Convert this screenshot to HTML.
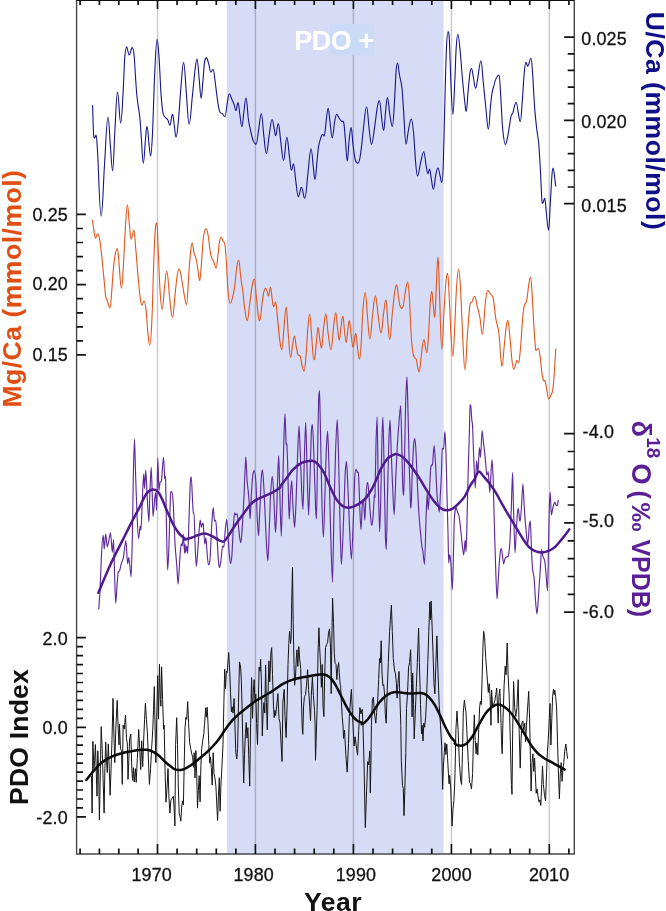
<!DOCTYPE html>
<html><head><meta charset="utf-8"><title>PDO chart</title>
<style>
html,body{margin:0;padding:0;background:#fff;}
body{width:666px;height:911px;overflow:hidden;}
svg{display:block;font-family:"Liberation Sans",sans-serif;will-change:transform;}
</style></head><body>
<svg width="666" height="911" viewBox="0 0 666 911">
<rect width="666" height="911" fill="#fff"/>
<rect x="226.8" y="0" width="216.8" height="853.5" fill="#d6dcf5"/>
<line x1="157.5" y1="9" x2="157.5" y2="844" stroke="#c9c9c9" stroke-width="1.4"/>
<line x1="255.4" y1="9" x2="255.4" y2="844" stroke="#a9adb8" stroke-width="1.4"/>
<line x1="353.4" y1="9" x2="353.4" y2="844" stroke="#a9adb8" stroke-width="1.4"/>
<line x1="451.4" y1="9" x2="451.4" y2="844" stroke="#c9c9c9" stroke-width="1.4"/>
<line x1="549.3" y1="9" x2="549.3" y2="844" stroke="#c9c9c9" stroke-width="1.4"/>
<rect x="329.6" y="24" width="44.6" height="31.5" fill="#cbdaf6"/>
<path d="M92.6 105.6C92.8 110.3 93.2 127.9 93.5 133.3C93.9 138.7 94.2 137.9 94.7 137.9C95.3 137.9 95.5 135.1 96.1 135.1C96.7 135.1 96.8 140.5 97.7 154.0C98.5 167.5 99.7 216.2 101.1 216.2C102.6 216.2 103.4 179.8 104.6 163.2C105.7 146.7 106.6 117.2 108.0 117.2C109.0 117.2 109.6 135.9 110.3 144.8C111.1 153.8 111.7 170.9 112.6 170.9C113.6 170.9 114.1 141.8 115.0 128.7C115.8 115.6 116.4 92.3 117.5 92.3C118.8 92.3 119.4 122.9 120.7 122.9C121.7 122.9 122.4 104.7 123.0 94.1C123.7 83.6 124.1 67.4 124.6 59.6C125.2 51.7 125.7 46.9 126.5 46.9C127.6 46.9 128.1 55.0 129.2 55.0C130.5 55.0 131.0 47.6 132.2 47.6C133.0 47.6 133.4 48.3 134.1 55.0C134.7 61.6 135.6 79.5 136.2 87.2C136.7 94.9 136.9 96.0 137.5 101.0C138.1 106.0 139.2 110.6 139.8 117.2C140.5 123.7 140.9 132.5 141.5 140.2C142.0 147.9 142.5 163.2 143.3 163.2C144.2 163.2 144.8 146.4 145.4 140.2C146.0 134.1 146.3 126.4 147.0 126.4C147.9 126.4 148.4 139.9 149.1 144.8C149.7 149.7 150.0 155.9 150.7 155.9C151.4 155.9 151.8 147.4 152.5 133.3C153.2 119.2 154.0 86.8 154.8 71.1C155.6 55.4 156.2 39.3 157.1 39.3C158.0 39.3 158.5 50.4 159.2 59.6C159.8 68.7 160.4 85.3 161.0 94.1C161.7 103.0 162.2 108.7 162.9 112.6C163.6 116.4 164.3 115.9 165.2 117.2C166.0 118.4 167.2 118.6 167.9 119.9C168.7 121.3 169.0 125.2 169.8 125.2C171.0 125.2 171.4 114.4 172.6 114.4C173.3 114.4 173.8 122.6 174.4 126.4C175.0 130.2 175.3 137.2 176.0 137.2C177.0 137.2 177.4 130.9 178.3 121.8C179.2 112.7 180.4 92.5 181.3 82.6C182.2 72.7 182.6 62.6 183.6 62.6C184.8 62.6 185.5 83.9 186.4 94.1C187.3 104.4 188.0 124.1 189.1 124.1C190.4 124.1 191.2 107.6 192.1 98.7C193.1 89.9 194.1 77.7 194.9 71.1C195.7 64.5 196.1 59.1 197.0 59.1C197.9 59.1 198.4 71.5 199.1 78.0C199.8 84.5 200.3 98.3 201.2 98.3C201.8 98.3 202.2 88.7 202.8 82.6C203.3 76.5 204.0 66.0 204.6 61.9C205.2 57.8 205.7 57.9 206.5 57.9C207.4 57.9 208.0 61.8 208.8 64.2C209.5 66.6 210.0 72.2 210.8 72.2C211.8 72.2 212.2 69.2 213.1 69.2C213.9 69.2 214.3 75.4 215.0 80.3C215.7 85.2 216.5 93.5 217.3 98.7C218.0 103.9 218.7 108.9 219.6 111.4C220.4 113.9 221.5 112.9 222.4 113.7C223.2 114.6 223.8 116.5 224.9 116.5C225.9 116.5 226.5 107.1 227.2 103.3C227.9 99.5 228.4 93.7 229.3 93.7C230.2 93.7 230.8 96.9 231.6 98.7C232.4 100.5 233.4 102.5 234.1 104.5C234.8 106.5 235.2 110.7 235.9 110.7C236.8 110.7 237.1 102.6 238.0 102.6C238.8 102.6 239.2 110.8 239.9 114.9C240.5 118.9 241.1 126.8 241.9 126.8C242.7 126.8 243.1 117.4 243.8 112.6C244.5 107.8 245.1 98.0 246.1 98.0C247.1 98.0 247.5 113.6 248.4 119.5C249.2 125.3 250.3 129.6 251.2 133.3C252.0 136.9 252.6 139.6 253.5 141.4C254.3 143.2 254.9 144.1 256.0 144.1C257.2 144.1 257.9 133.8 258.8 128.7C259.6 123.6 260.2 113.7 261.3 113.7C262.4 113.7 263.0 129.0 263.8 135.6C264.7 142.2 265.3 153.6 266.4 153.6C267.5 153.6 268.2 141.3 269.1 135.6C270.1 129.9 270.9 119.5 272.1 119.5C273.0 119.5 273.6 126.0 274.2 128.7C274.8 131.4 275.0 135.6 275.6 135.6C276.7 135.6 277.2 123.6 278.3 123.6C279.3 123.6 279.8 134.1 280.6 140.2C281.5 146.4 282.4 160.5 283.6 160.5C285.0 160.5 285.5 137.2 286.9 137.2C287.9 137.2 288.6 150.8 289.4 156.3C290.2 161.8 290.6 170.2 291.5 170.2C292.3 170.2 292.7 163.7 293.5 163.7C294.4 163.7 294.8 173.9 295.6 179.4C296.4 184.9 297.2 196.7 298.4 196.7C299.6 196.7 300.1 187.4 301.4 187.4C302.8 187.4 303.4 198.3 304.8 198.3C306.1 198.3 306.8 183.0 307.8 174.8C308.9 166.5 309.7 148.7 311.1 148.7C312.0 148.7 312.7 162.7 313.4 167.9C314.0 173.0 314.3 179.4 315.0 179.4C315.8 179.4 316.3 168.6 316.8 163.2C317.4 157.9 317.8 151.3 318.5 147.1C319.1 142.9 320.1 140.0 320.8 137.9C321.5 135.8 321.8 134.4 322.6 134.4C323.3 134.4 323.5 136.1 324.2 136.1C325.0 136.1 325.4 126.4 326.1 121.8C326.7 117.2 327.3 108.4 328.1 108.4C328.9 108.4 329.3 116.9 330.0 121.8C330.7 126.7 331.3 137.9 332.3 137.9C333.2 137.9 333.9 125.7 334.6 121.8C335.3 117.9 335.8 114.4 336.7 114.4C337.7 114.4 338.4 117.2 339.2 118.3C340.0 119.5 340.7 120.5 341.5 121.3C342.3 122.1 343.1 119.8 343.8 122.9C344.5 126.1 344.8 133.9 345.4 140.2C346.0 146.5 346.5 160.9 347.3 160.9C348.0 160.9 348.4 145.8 349.1 140.2C349.8 134.6 350.3 127.5 351.2 127.5C351.9 127.5 352.3 139.4 353.0 144.8C353.7 150.2 354.5 156.7 355.3 159.8C356.2 162.9 356.9 163.2 358.1 163.2C359.2 163.2 359.7 159.8 360.6 154.0C361.5 148.3 362.4 136.6 363.4 128.7C364.4 120.8 365.3 106.8 366.6 106.8C367.7 106.8 368.3 122.4 369.1 128.7C370.0 134.9 370.5 144.4 371.5 144.4C372.7 144.4 373.5 134.8 374.4 128.7C375.4 122.6 376.4 112.6 377.2 107.9C378.0 103.3 378.4 100.6 379.3 100.6C380.4 100.6 381.1 114.5 381.8 119.5C382.5 124.5 382.9 130.5 383.7 130.5C384.4 130.5 384.9 118.0 385.5 112.6C386.1 107.1 386.6 97.6 387.4 97.6C388.4 97.6 389.0 110.1 389.9 114.9C390.7 119.7 391.4 126.4 392.4 126.4C393.3 126.4 393.9 110.3 394.5 101.0C395.1 91.8 395.6 77.4 396.1 71.1C396.6 64.7 396.9 63.0 397.5 63.0C398.4 63.0 398.8 71.7 399.6 75.7C400.3 79.7 401.2 81.1 401.9 87.2C402.6 93.4 403.0 103.1 403.7 112.6C404.4 122.0 405.0 144.1 406.0 144.1C407.0 144.1 407.4 135.2 408.3 131.0C409.2 126.8 410.1 119.0 411.3 119.0C412.3 119.0 412.9 125.9 413.6 133.3C414.3 140.7 415.0 156.1 415.7 163.2C416.3 170.4 416.8 175.9 417.5 175.9C418.8 175.9 419.5 167.3 420.5 163.2C421.6 159.2 422.4 151.7 423.8 151.7C424.7 151.7 425.4 161.9 426.1 165.6C426.8 169.2 427.1 173.6 427.9 173.6C428.6 173.6 428.8 169.0 429.5 169.0C430.3 169.0 430.7 176.0 431.4 179.4C432.0 182.7 432.5 189.2 433.4 189.2C434.4 189.2 435.0 178.3 435.8 174.7C436.6 171.2 437.1 168.0 438.0 168.0C438.9 168.0 439.5 173.5 440.1 175.9C440.8 178.3 441.1 182.4 441.8 182.4C442.4 182.4 442.8 179.2 443.3 165.1C443.8 150.9 444.4 116.8 445.0 97.4C445.5 78.1 445.9 60.1 446.4 49.1C446.9 38.2 447.3 31.8 447.9 31.8C448.5 31.8 448.8 30.6 449.3 39.5C449.8 48.4 450.4 72.9 451.0 85.4C451.6 97.8 452.1 114.4 452.9 114.4C453.7 114.4 454.1 96.2 454.6 85.4C455.2 74.5 455.6 57.7 456.1 49.1C456.6 40.6 457.1 34.2 457.8 34.2C458.8 34.2 459.4 43.8 460.2 51.6C461.0 59.3 461.8 72.1 462.6 80.5C463.4 89.0 464.2 97.1 464.8 102.3C465.4 107.4 465.6 111.5 466.2 111.5C467.0 111.5 467.5 96.8 468.2 90.2C468.8 83.6 469.5 75.7 470.1 72.1C470.7 68.5 470.9 68.5 471.5 68.5C472.3 68.5 472.8 74.8 473.5 78.1C474.2 81.4 474.7 88.3 475.6 88.3C476.6 88.3 476.9 82.7 477.8 78.1C478.7 73.5 479.6 60.7 481.0 60.7C481.9 60.7 482.3 72.4 483.1 80.5C484.0 88.7 485.1 101.4 486.0 109.5C486.9 117.7 487.4 129.3 488.4 129.3C489.3 129.3 489.8 113.2 490.4 107.1C491.0 101.0 491.5 96.2 492.1 92.6C492.7 89.0 493.4 87.6 494.0 85.4C494.6 83.2 494.8 81.1 495.7 79.3C496.5 77.6 497.6 75.0 499.1 75.0C499.8 75.0 500.2 88.5 500.8 97.4C501.4 106.4 501.9 121.0 502.7 128.8C503.5 136.7 504.2 144.5 505.3 144.5C506.4 144.5 506.8 140.7 507.8 136.1C508.7 131.5 510.1 120.6 510.9 116.8C511.7 112.9 512.2 115.0 512.8 113.1C513.4 111.3 514.0 107.7 514.5 105.9C515.1 104.1 515.5 102.3 516.2 102.3C517.0 102.3 517.5 108.7 518.1 111.9C518.8 115.2 519.4 121.6 520.3 121.6C521.1 121.6 521.6 110.3 522.2 102.3C522.9 94.2 523.6 79.9 524.2 73.3C524.8 66.7 525.2 62.4 525.9 62.4C526.7 62.4 527.0 66.1 527.8 66.1C529.1 66.1 529.6 58.3 530.9 58.3C531.7 58.3 532.0 65.2 532.6 73.3C533.2 81.4 533.9 97.8 534.6 107.1C535.2 116.4 536.1 122.8 536.7 128.8C537.4 134.9 538.1 136.5 538.7 143.3C539.3 150.2 539.8 160.6 540.4 169.9C540.9 179.1 541.4 193.3 541.8 198.9C542.2 204.4 542.4 203.2 542.8 203.2C543.6 203.2 543.9 198.4 544.7 198.4C545.4 198.4 545.8 208.0 546.4 213.4C547.0 218.7 547.7 230.3 548.6 230.3C549.3 230.3 549.7 213.0 550.3 203.7C550.8 194.4 551.5 180.7 552.0 174.7C552.4 168.8 552.7 168.0 553.2 168.0C553.8 168.0 554.2 174.1 554.6 177.1C555.1 180.2 555.6 184.8 555.8 186.3" fill="none" stroke="#15158a" stroke-width="1.1" stroke-linejoin="round" stroke-linecap="round"/>
<path d="M92.4 220.3C92.6 221.9 93.3 226.6 93.8 229.6C94.3 232.5 94.7 238.1 95.4 238.1C96.3 238.1 96.7 233.7 97.7 233.7C98.4 233.7 98.9 235.2 99.5 238.8C100.2 242.3 100.9 248.4 101.6 254.9C102.3 261.4 103.2 271.0 103.9 277.9C104.6 284.9 105.1 292.5 105.7 296.4C106.4 300.3 106.9 299.5 107.6 301.5C108.3 303.4 108.9 307.9 109.9 307.9C110.7 307.9 111.1 298.7 111.7 291.8C112.3 284.9 112.9 273.0 113.6 266.4C114.2 259.9 115.0 255.6 115.6 252.6C116.3 249.6 116.6 248.5 117.3 248.5C118.0 248.5 118.4 257.5 119.1 264.1C119.8 270.8 120.4 288.3 121.4 288.3C122.2 288.3 122.6 278.5 123.2 268.7C123.9 258.9 124.6 240.2 125.3 229.6C126.0 218.9 126.5 204.7 127.4 204.7C128.2 204.7 128.6 216.9 129.2 222.6C129.9 228.4 130.3 239.2 131.1 239.2C132.2 239.2 132.7 230.0 133.8 230.0C134.6 230.0 135.0 240.4 135.7 248.0C136.4 255.6 137.2 267.2 138.0 275.6C138.8 284.1 139.6 293.8 140.3 298.7C141.0 303.6 141.2 305.1 141.9 305.1C142.9 305.1 143.2 301.0 144.2 301.0C145.0 301.0 145.4 304.8 146.1 310.2C146.7 315.6 147.3 327.4 147.9 333.2C148.5 339.1 149.0 345.2 149.7 345.2C150.6 345.2 151.2 335.2 151.8 321.7C152.5 308.2 153.1 279.5 153.7 264.1C154.2 248.8 154.7 236.4 155.3 229.6C155.8 222.7 156.2 223.1 156.9 223.1C157.5 223.1 157.7 241.2 158.3 252.6C158.8 264.0 159.5 282.3 160.1 291.8C160.8 301.3 161.3 309.5 162.2 309.5C163.2 309.5 163.7 293.6 164.5 287.2C165.3 280.8 165.8 271.0 166.8 271.0C167.8 271.0 168.4 284.9 169.1 291.8C169.8 298.7 170.6 308.3 171.2 312.5C171.8 316.7 172.0 317.1 172.6 317.1C173.5 317.1 174.1 303.3 174.9 296.4C175.6 289.5 176.4 280.3 177.2 275.6C177.9 271.0 178.4 268.7 179.2 268.7C180.3 268.7 180.9 275.6 181.8 280.3C182.7 284.9 183.7 292.4 184.5 296.4C185.3 300.4 185.7 304.4 186.6 304.4C187.5 304.4 188.0 284.3 188.7 275.6C189.3 267.0 190.0 258.1 190.5 252.6C191.1 247.2 191.5 242.9 192.1 242.9C192.9 242.9 193.3 249.6 194.0 252.6C194.7 255.6 195.8 257.2 196.5 260.7C197.3 264.1 197.8 270.0 198.4 273.3C198.9 276.7 199.2 280.7 199.7 280.7C200.4 280.7 200.8 271.1 201.4 264.1C202.0 257.1 202.6 244.5 203.2 238.8C203.8 233.1 204.5 231.6 205.1 230.0C205.6 228.4 205.9 229.1 206.5 229.1C207.2 229.1 207.6 232.6 208.3 236.5C208.9 240.4 209.8 249.0 210.4 252.6C211.0 256.3 211.4 256.8 212.0 258.4C212.6 259.9 213.1 260.2 213.8 261.8C214.5 263.5 215.2 268.3 216.1 268.3C216.9 268.3 217.4 259.4 218.0 254.9C218.5 250.4 219.0 244.0 219.6 241.1C220.1 238.1 220.5 237.2 221.2 237.2C222.0 237.2 222.4 239.9 223.0 241.1C223.7 242.3 224.3 240.7 224.9 244.5C225.5 248.4 226.0 256.3 226.5 264.1C227.0 272.0 227.5 285.2 228.1 291.8C228.7 298.3 229.2 303.3 230.0 303.3C230.9 303.3 231.5 301.4 232.3 298.7C233.0 296.0 233.8 292.5 234.6 287.2C235.3 281.8 236.2 271.0 236.9 266.4C237.6 261.9 237.9 260.0 238.7 260.0C239.5 260.0 239.9 270.3 240.6 275.6C241.2 280.9 242.1 286.0 242.9 291.8C243.6 297.5 244.2 305.4 244.9 310.2C245.7 315.0 246.3 320.6 247.2 320.6C248.2 320.6 248.7 311.6 249.5 305.6C250.4 299.6 251.5 289.3 252.3 284.9C253.1 280.4 253.5 279.1 254.4 279.1C255.2 279.1 255.8 292.4 256.5 298.7C257.1 305.0 257.9 313.5 258.5 317.1C259.1 320.8 259.3 320.6 259.9 320.6C260.7 320.6 261.1 310.4 261.8 305.6C262.4 300.8 263.2 294.7 263.8 291.8C264.5 288.9 264.9 288.3 265.7 288.3C266.4 288.3 267.1 291.7 267.5 292.9C268.0 294.2 268.0 295.9 268.4 295.9C269.3 295.9 269.6 287.2 270.5 287.2C271.2 287.2 271.6 295.4 272.1 298.7C272.7 302.0 273.1 306.8 273.7 306.8C274.5 306.8 274.8 302.1 275.6 302.1C276.4 302.1 276.8 311.2 277.4 317.1C278.1 323.1 278.8 332.4 279.5 337.9C280.2 343.3 280.8 349.8 281.8 349.8C282.7 349.8 283.1 335.8 283.9 328.6C284.6 321.5 285.2 306.8 286.2 306.8C287.0 306.8 287.5 324.8 288.2 333.2C289.0 341.7 289.6 357.4 290.6 357.4C291.4 357.4 292.0 348.3 292.6 344.8C293.3 341.2 293.7 336.0 294.5 336.0C295.2 336.0 295.7 344.0 296.3 347.1C296.9 350.2 297.3 353.1 297.9 354.7C298.6 356.2 299.5 354.5 300.2 356.3C300.9 358.1 301.4 363.0 302.1 365.5C302.7 368.0 303.3 371.3 304.1 371.3C304.9 371.3 305.4 363.4 306.0 356.3C306.6 349.2 307.2 335.6 307.8 328.6C308.4 321.7 308.9 314.4 309.7 314.4C310.5 314.4 311.1 330.3 311.8 337.9C312.4 345.4 313.0 359.7 313.8 359.7C314.3 359.7 314.6 359.2 315.0 356.3C315.4 353.4 315.9 347.3 316.4 342.5C316.9 337.7 317.3 327.5 318.0 327.5C318.7 327.5 319.0 334.4 319.6 337.9C320.2 341.3 320.7 348.2 321.5 348.2C322.3 348.2 322.8 334.4 323.5 328.6C324.3 322.9 324.9 313.7 325.8 313.7C326.8 313.7 327.3 327.2 328.1 333.2C329.0 339.3 329.9 349.8 331.1 349.8C332.1 349.8 332.7 334.9 333.4 328.6C334.2 322.4 334.8 312.5 335.7 312.5C336.5 312.5 337.0 324.0 337.6 328.6C338.2 333.2 338.5 340.2 339.2 340.2C340.0 340.2 340.4 330.4 341.0 326.3C341.7 322.3 342.1 316.0 342.9 316.0C343.6 316.0 343.9 326.5 344.5 330.9C345.1 335.4 345.6 342.5 346.3 342.5C347.0 342.5 347.5 332.3 347.9 328.6C348.4 325.0 348.8 320.6 349.3 320.6C350.1 320.6 350.5 331.1 351.2 335.6C351.8 340.0 352.4 347.5 353.2 347.5C353.8 347.5 354.2 340.2 354.6 337.9C355.1 335.5 355.3 333.2 355.8 333.2C356.5 333.2 356.8 342.7 357.4 347.1C358.0 351.4 358.6 359.3 359.5 359.3C360.1 359.3 360.5 352.9 361.1 344.8C361.7 336.6 362.2 318.9 362.9 310.2C363.6 301.5 364.3 292.5 365.2 292.5C366.2 292.5 366.8 309.4 367.5 317.1C368.3 324.9 368.9 339.0 369.8 339.0C371.0 339.0 371.7 322.0 372.6 314.8C373.5 307.6 374.2 295.9 375.4 295.9C376.5 295.9 377.2 308.6 378.1 314.8C379.1 321.0 379.9 333.2 381.1 333.2C382.1 333.2 382.6 320.4 383.4 314.8C384.2 309.2 384.9 299.8 386.0 299.8C386.7 299.8 387.2 315.1 387.8 321.7C388.4 328.4 388.9 339.7 389.7 339.7C390.7 339.7 391.3 322.8 392.2 314.8C393.0 306.8 394.0 296.8 394.7 291.8C395.5 286.8 395.8 284.9 396.6 284.9C397.3 284.9 397.8 292.7 398.4 296.4C399.0 300.0 399.5 305.0 400.3 306.8C401.0 308.5 402.2 309.2 403.0 306.8C403.9 304.3 404.6 295.9 405.3 291.8C406.1 287.7 406.7 282.1 407.6 282.1C408.4 282.1 408.9 290.2 409.5 298.7C410.0 307.2 410.5 324.4 411.1 333.2C411.6 342.1 412.1 347.6 412.7 351.7C413.3 355.7 413.9 356.1 414.5 357.4C415.2 358.8 415.8 358.0 416.4 359.7C416.9 361.5 417.3 365.8 417.8 367.8C418.2 369.8 418.6 372.0 419.1 372.0C419.9 372.0 420.4 363.1 421.0 358.6C421.6 354.1 422.1 347.9 422.6 344.8C423.1 341.6 423.4 339.7 424.0 339.7C424.7 339.7 425.1 346.0 425.6 348.2C426.1 350.4 426.3 352.8 426.8 352.8C427.4 352.8 427.8 346.1 428.4 337.9C428.9 329.6 429.7 311.0 430.2 303.3C430.8 295.6 431.1 291.4 431.7 291.4C432.3 291.4 432.6 299.2 433.1 303.5C433.7 307.8 434.1 317.5 434.8 317.5C435.4 317.5 435.8 296.7 436.3 286.6C436.8 276.5 437.3 257.1 438.0 257.1C438.7 257.1 439.0 283.3 439.7 298.7C440.3 314.0 440.9 349.4 441.8 349.4C442.7 349.4 443.3 322.0 444.0 310.7C444.7 299.5 445.3 288.0 445.9 281.8C446.5 275.5 446.9 273.3 447.6 273.3C448.3 273.3 448.7 287.6 449.3 298.7C449.9 309.7 450.6 330.1 451.3 339.7C451.9 349.3 452.2 356.1 452.9 356.1C453.8 356.1 454.3 334.4 454.9 322.8C455.5 311.2 455.9 295.5 456.6 286.6C457.2 277.7 457.8 269.2 458.7 269.2C459.5 269.2 460.0 280.5 460.7 291.4C461.3 302.4 461.9 321.8 462.6 334.9C463.3 348.0 464.0 369.9 465.0 369.9C466.0 369.9 466.6 345.6 467.4 334.9C468.2 324.2 469.1 311.3 469.8 305.9C470.6 300.5 471.0 303.9 471.8 302.3C472.6 300.7 473.5 296.3 474.7 296.3C475.7 296.3 476.2 302.3 477.1 305.9C478.0 309.5 479.1 313.3 480.0 318.0C480.9 322.7 481.4 334.2 482.4 334.2C483.5 334.2 484.2 313.2 485.1 305.9C485.9 298.6 486.5 290.2 487.5 290.2C488.7 290.2 489.4 292.4 490.4 293.8C491.3 295.2 492.4 294.6 493.3 298.7C494.2 302.7 494.8 312.4 495.7 318.0C496.6 323.6 498.0 326.4 498.8 332.5C499.6 338.5 500.0 348.6 500.5 354.2C501.0 359.8 501.4 366.3 502.0 366.3C502.9 366.3 503.5 353.4 504.1 347.0C504.8 340.5 505.5 332.1 506.1 327.6C506.7 323.2 507.0 320.4 507.8 320.4C508.6 320.4 509.0 328.1 509.7 334.9C510.4 341.7 511.4 355.7 512.1 361.5C512.8 367.2 513.1 369.2 513.8 369.2C514.6 369.2 515.2 365.4 515.7 363.9C516.3 362.4 516.4 360.2 516.9 360.2C517.6 360.2 517.9 362.7 518.6 362.7C519.4 362.7 519.9 354.0 520.6 347.0C521.2 339.9 521.9 327.2 522.5 320.4C523.1 313.6 523.5 309.1 524.2 305.9C524.9 302.7 525.9 304.3 526.6 301.1C527.3 297.9 527.9 290.5 528.5 286.6C529.2 282.7 529.6 277.4 530.5 277.4C531.2 277.4 531.6 285.9 532.1 293.8C532.7 301.8 533.3 316.2 533.8 325.2C534.4 334.3 535.0 344.1 535.5 348.2C536.0 352.3 536.2 349.9 536.7 349.9C537.4 349.9 537.7 348.2 538.4 348.2C539.2 348.2 539.7 354.4 540.4 359.0C541.0 363.7 541.7 372.3 542.3 375.9C542.9 379.6 543.3 380.0 543.7 380.8C544.2 381.6 544.7 379.2 545.2 380.8C545.7 382.4 546.3 387.4 546.9 390.4C547.4 393.5 547.9 398.9 548.6 398.9C549.5 398.9 550.1 396.7 550.7 395.3C551.4 393.9 552.1 393.7 552.7 390.4C553.2 387.2 553.6 382.9 554.1 375.9C554.6 369.0 555.5 353.4 555.8 348.9" fill="none" stroke="#e2551c" stroke-width="1.1" stroke-linejoin="round" stroke-linecap="round"/>
<path d="M98.8 609.1C98.9 607.0 99.7 597.0 100.0 590.8C100.3 584.5 101.1 561.7 101.5 555.3C101.8 548.8 102.7 535.4 103.2 535.4C103.5 535.4 103.9 549.0 104.2 549.0C104.6 549.0 105.2 534.0 105.7 534.0C106.2 534.0 106.8 546.9 107.3 546.9C107.8 546.9 108.4 542.3 108.8 540.6C109.2 539.0 110.0 532.7 110.5 532.7C111.0 532.7 111.8 552.1 112.3 552.1C112.7 552.1 113.2 539.6 113.6 539.6C113.9 539.6 114.4 568.7 114.6 576.1C114.9 583.6 115.4 603.3 115.7 603.3C116.1 603.3 116.8 588.1 117.1 584.5C117.4 580.8 117.9 573.5 118.2 572.0C118.5 570.4 119.3 571.9 119.6 570.9C120.0 569.9 120.9 565.2 121.3 563.6C121.8 562.0 122.9 560.0 123.4 557.3C123.9 554.7 125.2 540.6 125.9 540.6C126.4 540.6 127.1 563.6 127.6 563.6C128.0 563.6 128.5 557.3 128.8 557.3C129.5 557.3 130.4 576.8 131.1 576.8C131.5 576.8 132.1 546.6 132.4 534.4C132.6 522.1 133.2 482.8 133.4 471.8C133.7 460.7 134.2 439.4 134.5 439.4C134.8 439.4 135.2 463.1 135.5 471.8C135.8 480.4 136.6 505.7 137.0 513.5C137.3 521.3 138.1 538.6 138.6 538.6C139.1 538.6 139.7 526.0 140.1 526.0C140.4 526.0 140.7 530.2 140.9 530.2C141.3 530.2 141.9 509.6 142.2 503.1C142.5 496.5 143.2 473.8 143.7 473.8C143.9 473.8 144.2 488.5 144.5 488.5C144.9 488.5 145.4 470.1 145.7 470.1C146.1 470.1 146.6 486.6 147.0 492.6C147.4 498.7 148.3 521.9 148.9 521.9C149.2 521.9 149.6 499.0 149.9 492.6C150.2 486.2 150.8 467.2 151.2 467.2C151.5 467.2 152.0 486.9 152.2 492.6C152.4 498.4 152.8 516.6 153.0 516.6C153.5 516.6 154.4 501.7 154.7 498.9C155.0 496.1 155.4 492.6 155.8 492.6C156.0 492.6 156.3 510.4 156.6 510.4C157.0 510.4 157.5 458.2 157.8 458.2C158.2 458.2 158.6 490.5 158.9 490.5C159.3 490.5 159.8 483.4 160.1 482.2C160.5 481.0 161.2 483.0 161.6 480.1C162.0 477.2 162.9 457.1 163.5 457.1C163.9 457.1 164.5 475.5 164.7 478.0C165.0 480.6 165.4 472.5 165.6 479.1C165.8 485.6 166.4 523.8 166.6 534.4C166.9 545.0 167.3 569.9 167.7 569.9C168.0 569.9 168.6 555.4 168.9 546.9C169.2 538.4 170.1 503.3 170.4 496.8C170.7 490.4 171.3 491.6 171.6 491.6C172.1 491.6 172.8 497.2 173.1 501.0C173.4 504.8 173.9 518.6 174.1 523.9C174.4 529.3 174.9 542.3 175.2 546.9C175.5 551.5 176.3 559.3 176.6 563.6C177.0 567.9 177.7 584.1 178.1 584.1C178.6 584.1 179.4 564.1 179.8 559.4C180.1 554.7 180.8 543.8 181.2 543.8C181.5 543.8 182.0 545.9 182.3 545.9C182.6 545.9 183.0 534.4 183.3 534.4C183.7 534.4 184.2 553.2 184.6 553.2C184.7 553.2 184.9 544.1 185.0 544.1C185.2 544.1 185.4 552.4 185.6 552.4C185.9 552.4 186.4 546.1 186.7 546.1C187.0 546.1 187.4 553.4 187.7 553.4C188.0 553.4 188.5 533.4 188.8 525.3C189.1 517.1 189.9 489.2 190.2 483.5C190.5 477.9 190.9 476.8 191.3 476.8C191.6 476.8 192.3 495.9 192.5 500.2C192.8 504.5 193.1 513.8 193.4 513.8C193.5 513.8 193.8 512.7 194.0 512.7C194.3 512.7 194.8 535.7 195.0 542.0C195.3 548.2 195.9 566.6 196.3 566.6C196.6 566.6 197.2 558.8 197.5 554.5C197.9 550.2 198.9 533.5 199.2 529.4C199.5 525.4 199.9 520.0 200.2 520.0C200.6 520.0 201.0 527.3 201.3 527.3C201.7 527.3 202.2 523.2 202.5 523.2C202.8 523.2 203.1 522.8 203.4 525.3C203.6 527.7 204.4 544.1 204.8 544.1C205.1 544.1 205.6 537.8 205.9 537.8C206.2 537.8 206.6 547.1 206.9 550.3C207.2 553.5 207.9 564.9 208.4 564.9C208.9 564.9 209.7 563.3 210.1 558.7C210.4 554.0 211.4 531.2 211.7 525.3C212.1 519.3 212.7 507.5 213.2 507.5C213.6 507.5 214.1 521.1 214.4 521.1C214.8 521.1 215.3 520.0 215.7 520.0C216.1 520.0 216.6 530.9 216.9 535.7C217.3 540.4 218.1 557.0 218.4 560.8C218.7 564.5 219.1 567.6 219.4 567.6C219.9 567.6 220.5 563.3 220.9 560.8C221.3 558.2 222.1 546.1 222.6 546.1C223.0 546.1 223.5 547.2 223.8 547.2C224.3 547.2 225.0 532.7 225.3 529.4C225.6 526.2 226.3 519.4 226.8 519.4C227.1 519.4 227.7 531.6 228.0 535.7C228.3 539.8 229.0 551.2 229.3 554.5C229.6 557.7 230.1 563.5 230.5 563.5C230.9 563.5 231.6 558.9 232.0 554.5C232.3 550.0 233.1 530.1 233.4 525.3C233.8 520.4 234.3 512.7 234.7 512.7C235.0 512.7 235.4 514.8 235.7 514.8C236.2 514.8 236.8 513.8 237.2 513.8C237.6 513.8 238.2 522.5 238.4 525.3C238.7 528.1 239.4 535.8 239.7 537.8C240.0 539.8 240.6 542.6 240.9 542.6C241.4 542.6 242.0 530.9 242.4 525.3C242.8 519.6 243.7 501.9 244.1 493.9C244.5 486.0 245.3 456.8 245.8 456.8C246.1 456.8 246.7 475.2 247.0 479.3C247.3 483.4 248.0 488.9 248.3 491.9C248.5 494.8 249.1 501.2 249.3 504.4C249.5 507.6 249.9 519.0 250.1 519.0C250.5 519.0 251.1 499.1 251.4 493.9C251.7 488.8 252.5 477.9 252.8 475.2C253.2 472.4 253.9 470.6 254.3 470.6C254.8 470.6 255.6 478.1 256.0 483.5C256.3 488.9 256.9 510.8 257.2 516.9C257.5 523.0 258.1 535.7 258.5 535.7C258.9 535.7 259.4 519.3 259.7 512.7C260.1 506.2 260.9 484.3 261.2 479.3C261.5 474.3 262.1 469.9 262.5 469.9C262.9 469.9 263.5 481.2 263.9 487.7C264.3 494.1 265.2 518.0 265.6 525.3C265.9 532.6 266.6 546.2 266.8 550.3C267.1 554.5 267.6 560.8 267.9 560.8C268.3 560.8 268.8 541.4 269.1 533.6C269.5 525.8 270.2 500.6 270.6 493.9C271.0 487.2 271.8 476.2 272.3 476.2C272.6 476.2 273.2 484.5 273.5 489.8C273.8 495.0 274.5 516.1 274.8 521.1C275.0 526.1 275.4 532.6 275.6 532.6C276.0 532.6 276.6 511.6 276.9 504.4C277.1 497.2 277.7 476.6 277.9 471.0C278.1 465.3 278.5 455.9 278.7 455.9C279.0 455.9 279.3 474.2 279.6 483.5C279.9 492.8 280.7 536.0 281.3 536.0C281.6 536.0 282.2 506.1 282.5 495.3C282.8 484.4 283.5 452.6 283.8 443.1C284.1 433.6 284.6 413.8 285.0 413.8C285.3 413.8 285.8 439.4 286.1 443.1C286.3 446.7 286.7 441.5 286.9 445.2C287.1 448.8 287.7 465.7 287.9 474.4C288.2 483.0 288.8 519.3 289.2 519.3C289.6 519.3 290.1 499.8 290.4 495.3C290.7 490.8 291.3 480.6 291.7 480.6C292.1 480.6 292.6 500.2 292.9 505.7C293.3 511.2 294.1 527.6 294.6 527.6C295.0 527.6 295.5 513.1 295.9 505.7C296.2 498.3 297.0 473.2 297.3 463.9C297.7 454.6 298.5 425.9 299.0 425.9C299.4 425.9 299.9 445.9 300.3 453.5C300.6 461.1 301.4 484.6 301.7 491.1C302.0 497.6 302.6 509.5 303.0 509.5C303.3 509.5 303.9 474.1 304.2 463.9C304.5 453.8 305.2 422.6 305.7 422.6C306.1 422.6 306.6 453.2 306.9 463.9C307.3 474.7 308.1 515.1 308.6 515.1C309.0 515.1 309.7 484.0 310.1 474.4C310.4 464.8 311.0 438.5 311.3 432.6C311.6 426.8 312.0 424.3 312.4 424.3C312.8 424.3 313.5 444.0 313.8 453.5C314.2 463.0 315.2 498.1 315.5 505.7C315.8 513.3 316.2 518.9 316.5 518.9C316.8 518.9 317.3 467.2 317.6 453.5C317.8 439.8 318.4 408.7 318.6 401.3C318.8 394.0 319.2 390.5 319.5 390.5C319.7 390.5 320.0 410.0 320.3 422.2C320.6 434.4 321.4 481.9 321.8 495.3C322.1 508.7 322.9 537.0 323.4 537.0C323.9 537.0 324.5 505.5 324.9 495.3C325.2 485.0 326.0 456.8 326.3 449.3C326.7 441.8 327.2 431.0 327.6 431.0C328.0 431.0 328.5 452.8 328.9 463.9C329.2 475.1 330.1 512.8 330.5 526.6C330.9 540.4 331.9 582.1 332.5 582.1C332.9 582.1 333.5 531.1 333.9 516.1C334.2 501.1 335.1 464.8 335.5 453.5C335.9 442.2 336.7 419.5 337.2 419.5C337.6 419.5 338.1 441.0 338.5 453.5C338.8 466.0 339.8 513.6 340.1 526.6C340.5 539.5 341.0 564.4 341.4 564.4C342.1 564.4 343.2 526.6 343.7 516.1C344.1 505.6 344.8 480.8 345.1 474.4C345.5 468.0 346.0 461.4 346.4 461.4C346.8 461.4 347.5 477.2 347.8 484.8C348.2 492.4 349.1 517.9 349.5 526.6C349.9 535.2 350.8 559.1 351.4 559.1C352.0 559.1 353.1 525.5 353.5 516.1C353.9 506.7 354.4 484.0 354.7 478.6C355.0 473.1 355.6 469.2 356.0 469.2C356.4 469.2 357.0 471.7 357.2 472.3C357.5 472.9 358.2 470.5 358.5 474.4C358.8 478.3 359.5 499.2 359.7 505.7C360.0 512.2 360.6 529.7 361.0 529.7C361.4 529.7 362.0 509.2 362.3 505.7C362.5 502.2 363.1 499.4 363.5 499.4C363.9 499.4 364.4 520.3 364.8 520.3C365.1 520.3 365.7 499.7 366.0 495.3C366.3 490.8 367.0 482.3 367.5 482.3C367.8 482.3 368.4 487.6 368.7 491.1C369.0 494.5 369.8 507.9 370.2 512.0C370.5 516.0 371.2 525.5 371.6 525.5C372.1 525.5 372.8 519.7 373.1 516.1C373.4 512.6 374.1 497.7 374.4 495.3C374.6 492.8 374.8 501.4 375.0 495.3C375.2 489.2 375.8 452.2 376.0 443.1C376.3 433.9 376.8 417.0 377.1 417.0C377.4 417.0 377.8 461.0 378.1 474.4C378.4 487.8 379.2 531.8 379.6 531.8C380.0 531.8 380.6 505.6 380.8 495.3C381.1 484.9 381.6 452.2 381.9 443.1C382.1 433.9 382.6 417.0 382.9 417.0C383.3 417.0 383.9 460.4 384.2 474.4C384.5 488.4 385.2 528.2 385.4 537.0C385.7 545.8 386.0 549.5 386.3 549.5C386.6 549.5 387.2 507.7 387.5 495.3C387.8 482.8 388.5 451.8 388.8 443.1C389.1 434.3 389.7 420.1 390.0 420.1C390.4 420.1 390.9 444.7 391.3 453.5C391.6 462.3 392.6 488.1 393.0 495.3C393.3 502.4 393.8 514.7 394.2 514.7C394.7 514.7 395.5 482.7 395.9 474.4C396.3 466.0 397.2 449.2 397.5 443.1C397.9 437.0 398.6 426.6 399.0 422.2C399.4 417.8 400.2 405.5 400.7 405.5C401.0 405.5 401.5 433.6 401.7 443.1C402.0 452.6 402.5 480.8 402.8 486.9C403.0 493.0 403.5 495.3 403.8 495.3C404.1 495.3 404.4 464.5 404.6 453.5C404.9 442.5 405.4 410.3 405.7 401.3C406.0 392.4 406.6 376.7 406.9 376.7C407.3 376.7 407.7 401.6 408.0 411.8C408.3 421.9 408.9 453.2 409.2 463.9C409.5 474.7 410.3 498.5 410.5 503.6C410.7 508.7 410.9 507.8 411.1 507.8C411.4 507.8 411.9 481.7 412.2 474.4C412.5 467.1 413.3 449.3 413.6 445.2C413.9 441.0 414.5 438.5 414.9 438.5C415.3 438.5 415.8 448.1 416.1 453.5C416.4 458.9 417.1 478.0 417.4 484.8C417.7 491.6 418.5 506.4 418.8 512.0C419.2 517.6 420.1 528.7 420.5 532.8C420.9 537.0 421.7 545.4 422.0 547.5C422.2 549.5 422.5 548.6 422.8 550.6C423.1 552.6 424.0 564.4 424.5 564.4C425.0 564.4 425.8 524.4 426.1 516.1C426.5 507.8 426.9 493.2 427.2 493.2C427.5 493.2 427.9 509.9 428.2 509.9C428.5 509.9 429.0 499.9 429.3 495.3C429.5 490.6 430.3 473.7 430.5 470.2C430.8 466.7 431.1 465.7 431.4 465.0C431.6 464.3 432.3 466.2 432.6 463.9C432.9 461.7 433.6 445.6 434.1 445.6C434.5 445.6 435.2 458.1 435.5 463.9C435.9 469.7 436.7 490.4 437.0 495.3C437.3 500.1 438.0 503.8 438.3 505.7C438.5 507.6 439.0 512.0 439.3 512.0C439.6 512.0 440.1 499.6 440.3 495.3C440.6 490.9 441.2 479.9 441.4 474.4C441.6 468.9 442.0 448.3 442.2 448.3C442.6 448.3 443.1 449.3 443.5 449.3C443.9 449.3 444.5 431.6 444.9 431.6C445.3 431.6 445.7 446.1 446.0 453.5C446.2 460.9 446.8 485.5 447.0 495.3C447.3 505.0 447.9 529.1 448.1 537.0C448.3 544.9 448.5 562.9 448.7 562.9C449.0 562.9 449.4 554.6 449.7 554.6C450.1 554.6 450.7 560.5 451.0 564.6C451.3 568.7 451.9 589.8 452.2 589.8C452.6 589.8 453.0 569.6 453.3 561.4C453.5 553.3 454.0 526.6 454.3 520.3C454.6 514.0 455.5 507.2 456.0 507.2C456.4 507.2 457.1 510.9 457.5 512.0C457.8 513.0 458.8 514.2 459.1 516.1C459.5 518.1 460.2 525.3 460.6 528.7C461.0 532.1 461.9 542.3 462.3 545.4C462.6 548.4 463.3 555.0 463.7 555.0C464.2 555.0 464.7 540.1 465.2 540.1C465.4 540.1 465.8 551.6 466.0 551.6C466.3 551.6 466.6 535.6 466.9 526.6C467.1 517.6 467.8 485.3 468.1 474.4C468.4 463.4 469.1 440.8 469.4 432.6C469.6 424.5 469.8 404.6 470.0 404.6C470.3 404.6 470.7 405.0 470.9 406.8C471.1 408.6 471.6 417.7 471.8 420.0C472.0 422.3 472.4 421.5 472.6 426.6C472.9 431.7 473.6 456.8 474.0 463.9C474.3 471.1 474.9 488.1 475.3 488.1C475.7 488.1 476.2 460.6 476.6 460.6C477.0 460.6 477.5 472.7 477.9 472.7C478.4 472.7 479.0 447.5 479.4 447.5C479.8 447.5 480.2 457.3 480.5 457.3C481.0 457.3 481.6 430.5 482.1 430.5C482.5 430.5 483.3 441.3 483.6 444.2C484.0 447.0 484.6 451.8 484.9 455.1C485.3 458.5 486.2 470.4 486.5 472.7C486.7 475.0 486.9 474.9 487.1 474.9C487.5 474.9 487.9 471.6 488.2 471.6C488.7 471.6 489.3 492.5 489.8 492.5C490.1 492.5 490.6 478.8 490.9 474.9C491.1 471.1 491.6 459.5 492.0 459.5C492.3 459.5 492.8 470.2 493.1 477.1C493.3 484.0 493.9 508.9 494.2 518.9C494.4 528.9 495.2 553.4 495.5 562.8C495.8 572.1 496.6 599.0 497.0 599.0C497.5 599.0 498.2 579.3 498.6 573.8C498.9 568.3 500.0 554.8 500.3 551.8C500.6 548.9 501.1 548.5 501.4 548.5C501.7 548.5 502.3 554.4 502.5 556.2C502.8 558.0 503.3 563.9 503.6 563.9C504.1 563.9 504.8 559.2 505.1 558.4C505.5 557.6 506.5 557.0 506.9 556.6C507.3 556.3 508.1 557.6 508.4 555.8C508.8 553.9 509.6 546.4 510.0 540.8C510.3 535.2 511.0 515.8 511.3 507.9C511.6 499.9 512.2 472.7 512.6 472.7C512.9 472.7 513.2 498.5 513.5 507.9C513.8 517.2 514.6 552.9 515.0 552.9C515.4 552.9 515.9 539.0 516.1 534.2C516.4 529.5 517.2 515.3 517.5 512.3C517.7 509.3 518.1 508.5 518.3 508.5C518.7 508.5 519.2 517.3 519.4 518.9C519.6 520.4 519.9 521.5 520.1 521.5C520.5 521.5 521.1 512.3 521.4 507.9C521.7 503.5 522.5 483.7 522.9 483.7C523.3 483.7 523.9 502.5 524.3 507.9C524.6 513.3 525.6 525.6 526.0 529.8C526.4 534.1 527.2 544.1 527.8 544.1C528.2 544.1 529.0 528.1 529.3 525.4C529.6 522.8 530.1 521.1 530.4 521.1C530.7 521.1 531.3 546.2 531.5 551.8C531.8 557.4 532.3 566.3 532.6 569.4C532.9 572.5 533.8 574.6 534.1 578.2C534.5 581.8 535.1 596.0 535.5 600.1C535.8 604.3 536.5 613.8 537.0 613.8C537.5 613.8 538.2 600.9 538.5 595.7C538.9 590.6 539.9 574.8 540.3 569.4C540.7 564.0 541.2 549.6 541.6 549.6C542.0 549.6 542.6 554.9 542.9 556.2C543.3 557.5 544.3 558.5 544.7 560.6C545.1 562.6 545.7 570.2 546.0 573.8C546.3 577.3 547.1 590.9 547.5 590.9C547.8 590.9 548.2 561.5 548.4 551.8C548.6 542.1 549.1 514.8 549.3 507.9C549.5 500.9 549.9 492.1 550.2 492.1C550.5 492.1 551.0 514.9 551.3 514.9C551.7 514.9 552.3 510.2 552.6 509.0C552.9 507.8 553.4 505.3 553.7 504.6C554.0 503.8 554.5 502.4 554.8 502.4C555.2 502.4 555.8 504.9 556.1 505.2C556.4 505.6 556.9 505.7 557.2 505.7C557.5 505.7 558.2 500.8 558.3 500.2" fill="none" stroke="#5e2a9c" stroke-width="1.15" stroke-linejoin="round" stroke-linecap="round"/>
<path d="M98.4 592.8C100.4 588.0 106.7 572.7 110.9 563.6C115.1 554.6 119.9 545.5 123.4 538.6C126.9 531.6 129.0 527.3 131.8 521.9C134.5 516.5 137.7 510.9 140.1 506.2C142.5 501.5 144.3 496.5 146.4 493.7C148.5 490.9 150.7 489.8 152.6 489.5C154.5 489.2 156.3 490.0 157.8 491.6C159.4 493.2 160.5 495.6 162.0 498.9C163.6 502.2 165.3 507.1 167.2 511.4C169.2 515.8 171.4 521.2 173.5 525.0C175.6 528.8 177.9 532.1 179.8 534.4C181.7 536.6 184.1 537.7 185.0 538.6C185.9 539.4 184.0 539.6 185.0 539.5C186.0 539.3 189.2 538.5 191.3 537.8C193.4 537.1 195.3 536.0 197.5 535.3C199.8 534.6 202.4 533.5 204.8 533.6C207.3 533.8 209.9 535.1 212.1 536.1C214.4 537.2 216.5 539.0 218.4 539.9C220.3 540.8 222.1 542.1 223.6 541.5C225.2 541.0 225.9 539.5 227.8 536.7C229.7 534.0 232.5 529.1 235.1 525.3C237.7 521.4 241.0 517.1 243.5 513.8C245.9 510.5 247.8 507.6 249.7 505.4C251.6 503.2 252.8 502.0 254.9 500.6C257.0 499.2 259.3 498.5 262.2 497.1C265.2 495.7 269.7 493.8 272.7 492.3C275.6 490.7 278.8 488.6 280.0 487.7C281.2 486.8 279.0 488.4 280.0 486.9C281.0 485.4 284.2 481.3 286.3 478.6C288.4 475.8 290.3 472.6 292.5 470.2C294.8 467.8 297.4 465.4 299.8 463.9C302.3 462.4 305.1 461.8 307.1 461.2C309.2 460.7 310.6 460.4 312.4 460.8C314.1 461.3 315.7 462.0 317.6 463.9C319.5 465.9 321.8 468.5 323.8 472.3C325.9 476.1 328.0 482.4 330.1 486.9C332.2 491.4 334.3 496.2 336.4 499.4C338.5 502.6 340.7 504.7 342.6 506.1C344.5 507.5 346.1 507.7 347.8 507.8C349.6 507.9 351.2 507.4 353.1 506.7C355.0 506.0 357.2 505.0 359.3 503.6C361.4 502.2 363.5 500.8 365.6 498.4C367.7 496.0 370.3 491.6 371.9 489.0C373.4 486.4 373.4 486.2 375.0 482.7C376.6 479.3 379.2 472.1 381.3 468.1C383.4 464.1 385.4 461.0 387.5 458.7C389.6 456.5 392.2 455.3 393.8 454.6C395.4 453.8 395.5 453.8 396.9 454.1C398.3 454.5 400.2 455.2 402.1 456.6C404.1 458.1 406.3 460.5 408.4 462.9C410.5 465.3 412.6 468.3 414.7 471.3C416.8 474.2 418.8 477.3 420.9 480.6C423.0 484.0 425.1 487.8 427.2 491.1C429.3 494.4 431.4 497.8 433.5 500.5C435.5 503.2 437.6 505.7 439.7 507.4C441.8 509.0 443.9 510.0 446.0 510.3C448.1 510.5 450.2 509.9 452.2 508.8C454.3 507.7 456.4 505.7 458.5 503.6C460.6 501.5 462.9 499.3 464.8 496.3C466.7 493.4 468.4 488.7 470.0 485.9C471.6 483.1 472.9 481.7 474.4 479.3C475.9 476.9 477.3 472.2 478.8 471.6C480.3 471.1 481.4 474.0 483.2 476.0C485.0 478.0 487.6 480.8 489.8 483.7C492.0 486.6 494.2 489.9 496.4 493.6C498.6 497.3 500.8 501.8 503.0 505.7C505.1 509.5 507.3 513.0 509.5 516.7C511.7 520.3 513.9 524.0 516.1 527.6C518.3 531.3 520.5 535.3 522.7 538.6C524.9 541.9 527.1 545.3 529.3 547.4C531.5 549.5 533.7 550.5 535.9 551.4C538.1 552.2 540.3 552.6 542.5 552.5C544.7 552.4 546.9 551.7 549.1 550.7C551.3 549.7 553.5 548.3 555.7 546.3C557.9 544.3 560.4 540.8 562.3 538.6C564.1 536.4 565.5 534.7 566.7 533.1C567.8 531.6 568.9 530.0 569.3 529.4" fill="none" stroke="#4f1a8c" stroke-width="2.5" stroke-linejoin="round" stroke-linecap="round"/>
<path d="M91.5 776.5L92.1 813.0L92.9 741.3L93.9 768.6L94.6 760.7L95.4 744.5L96.2 768.6L97.0 796.2L97.8 750.8L98.6 768.6L99.4 820.0L100.4 768.6L101.2 726.7L102.2 748.8L103.1 778.5L104.1 813.0L104.9 768.6L105.7 741.9L106.5 760.7L107.3 772.5L108.3 743.9L109.3 768.6L110.1 795.3L111.1 768.6L112.0 738.9L113.0 698.4L114.0 738.9L114.8 762.6L115.8 729.1L117.2 700.4L118.2 729.1L119.0 744.9L119.5 724.1L120.5 748.8L121.5 750.8L122.3 784.4L123.1 725.1L124.3 729.1L125.5 715.2L126.5 738.9L127.3 742.9L128.0 779.4L128.8 760.7L129.6 738.9L130.8 734.0L131.8 768.6L132.6 780.4L133.4 767.6L134.2 782.0L135.4 768.6L136.2 782.4L137.3 758.7L138.7 729.4L139.7 748.8L140.7 769.6L141.7 740.9L142.7 766.6L143.7 738.9L144.6 719.2L145.4 703.0L146.4 719.2L147.4 733.0L148.4 758.7L149.4 784.4L150.6 768.6L151.6 748.8L152.8 729.1L153.5 709.3L154.3 686.6L155.1 729.1L155.9 762.6L156.7 719.2L157.7 675.7L158.5 719.2L159.5 664.2L160.3 699.4L160.9 706.3L161.6 666.8L162.6 699.4L163.6 729.1L164.2 725.1L165.0 768.6L166.0 802.2L167.0 788.3L168.0 768.6L169.0 798.2L169.9 813.0L170.9 800.2L172.1 798.2L173.3 796.2L174.1 808.1L174.9 825.9L175.6 744.4L176.7 717.7L177.5 744.4L178.3 786.1L179.2 813.3L180.0 816.4L180.8 821.2L181.7 807.0L182.5 800.8L183.4 804.9L184.2 765.3L185.0 727.7L185.9 717.2L186.7 719.3L187.7 701.6L188.6 723.5L189.6 742.3L190.7 748.6L191.7 753.8L192.7 756.9L193.4 767.3L194.2 752.7L195.0 777.8L195.9 750.6L196.7 773.6L197.5 808.1L198.4 790.3L199.2 775.7L200.1 801.8L200.9 765.3L201.7 748.6L202.8 740.2L203.8 733.9L204.6 723.5L205.7 707.8L206.3 717.2L207.2 707.2L208.0 723.5L208.8 744.4L209.7 763.2L210.5 756.9L211.3 767.3L212.2 785.1L213.2 752.7L214.0 773.6L214.9 777.8L215.9 786.1L216.8 804.9L217.6 820.6L218.4 796.6L219.3 777.8L220.1 811.2L220.9 786.1L222.0 765.3L223.0 744.4L223.9 702.6L224.7 669.2L225.5 689.1L226.4 671.3L227.2 672.4L228.7 652.5L229.7 671.3L230.5 692.2L231.4 712.0L232.2 706.8L233.0 713.1L234.1 698.5L234.9 723.5L235.8 752.7L236.8 759.0L237.6 748.6L238.5 702.6L239.5 661.9L240.6 667.1L241.4 681.8L242.2 713.1L243.1 754.8L243.7 783.0L244.5 754.8L245.4 733.9L246.2 722.5L247.0 738.1L247.9 727.7L248.7 754.8L249.7 786.1L250.6 723.5L251.6 677.6L252.5 718.3L253.3 692.2L254.1 679.7L255.0 702.6L255.8 694.3L256.6 723.5L257.5 744.4L258.3 702.6L259.1 667.1L260.0 671.3L260.6 659.2L261.4 681.8L262.3 736.0L263.1 713.1L263.9 702.6L264.8 713.1L265.6 665.1L266.4 702.6L267.3 729.8L268.1 692.2L268.9 660.9L269.8 681.8L270.6 660.9L270.8 653.9L271.7 647.7L272.5 674.8L273.5 706.1L274.2 717.6L275.0 710.3L275.6 715.5L276.7 706.1L277.9 693.6L279.0 718.7L280.0 722.8L282.0 761.5L282.9 702.0L284.2 689.4L285.0 716.6L286.1 737.5L287.1 706.1L288.0 664.4L288.8 643.5L289.6 631.0L290.5 643.5L291.1 639.3L291.7 601.8L292.5 567.3L293.2 622.6L294.0 664.4L294.6 685.3L295.5 676.9L296.3 658.1L296.9 649.8L297.8 666.5L298.8 646.6L299.6 658.1L300.7 668.6L301.3 695.7L302.2 727.0L302.8 734.3L303.6 706.1L304.4 696.7L305.5 694.7L306.5 685.3L307.6 669.6L308.6 689.4L309.7 706.1L310.5 720.8L311.3 695.7L312.4 676.9L313.4 695.7L314.5 710.3L315.1 724.9L315.5 760.2L317.2 706.1L318.0 653.9L318.9 627.8L319.7 647.7L320.5 664.4L321.4 687.3L322.2 664.4L323.0 706.1L323.9 716.6L324.7 674.8L325.5 647.7L326.6 644.6L327.6 642.5L328.5 633.1L329.5 628.9L330.5 647.7L331.2 693.6L331.8 643.5L332.6 598.2L333.5 622.6L334.3 653.9L335.1 663.3L336.0 664.4L336.9 679.6L337.6 668.6L338.6 662.5L339.3 672.7L340.1 684.2L340.6 685.3L341.4 702.0L342.2 716.6L343.1 727.0L343.5 738.5L344.5 730.1L345.8 754.2L347.2 772.1L348.5 743.7L349.3 716.6L350.4 702.0L351.4 689.4L352.3 710.3L353.1 727.0L354.1 746.0L355.0 736.8L357.6 755.2L358.7 730.8L359.9 707.6L360.9 713.9L362.2 709.3L362.2 709.2L363.0 725.3L364.1 767.0L365.3 827.6L366.6 790.2L367.7 761.6L368.7 764.9L369.8 750.9L370.3 793.1L371.0 759.9L371.4 725.3L372.4 700.2L373.3 697.1L374.1 708.6L374.9 716.9L375.8 723.2L376.6 712.7L377.7 700.2L378.7 679.3L379.5 658.5L380.4 662.6L381.2 640.7L382.0 673.1L382.9 685.6L383.7 684.6L384.5 693.9L385.4 714.8L386.2 723.2L387.1 693.9L388.3 662.6L389.6 631.3L390.4 619.8L391.4 605.2L392.3 631.3L393.3 658.5L394.6 671.0L395.4 673.1L396.4 683.5L397.1 698.1L397.9 683.5L399.0 671.4L399.8 693.9L400.8 725.3L401.3 760.1L402.5 785.6L403.3 788.5L404.0 815.7L404.8 790.0L405.8 752.4L406.5 708.6L407.5 693.9L408.6 666.8L409.6 662.6L410.6 649.7L411.5 683.5L412.1 716.9L412.7 673.1L413.6 704.4L414.2 738.8L415.2 714.8L416.3 687.7L417.3 662.6L418.6 628.2L419.4 662.6L420.5 704.4L421.5 733.6L422.1 725.3L423.0 740.9L423.8 723.2L424.6 727.3L425.7 716.9L426.7 693.9L427.8 662.6L428.8 631.3L429.8 602.1L430.5 619.8L431.1 601.0L431.9 620.9L433.0 652.2L434.0 683.5L434.9 693.9L435.9 662.6L436.9 635.9L438.0 673.1L439.2 704.4L440.5 725.3L441.7 746.1L442.6 789.4L443.4 767.0L444.3 752.4L445.0 742.8L445.9 754.5L446.8 744.1L447.6 758.7L448.4 773.3L449.1 783.9L449.7 775.4L450.7 787.9L452.1 826.1L453.0 808.8L453.9 800.6L454.5 787.9L455.0 773.6L455.9 729.7L457.0 711.0L458.1 729.7L459.4 762.6L460.7 780.2L461.6 784.5L462.5 751.6L463.3 712.1L464.4 700.1L465.3 707.8L466.0 712.1L466.8 729.7L468.2 760.4L469.5 782.4L470.4 783.4L471.5 788.9L472.6 773.6L473.4 740.7L474.3 714.8L475.2 740.7L476.1 753.8L476.9 742.9L477.8 754.9L478.7 729.7L479.6 707.8L480.4 701.2L481.3 704.5L482.2 674.8L483.1 641.9L483.7 631.4L484.6 637.6L485.7 657.3L487.0 674.8L488.3 692.4L489.2 683.6L490.1 696.8L491.0 725.3L491.6 690.2L492.7 707.8L493.6 704.5L494.7 701.2L495.8 694.6L496.7 688.0L497.6 707.8L498.2 723.1L498.9 696.8L499.8 689.1L500.6 707.8L501.5 740.7L502.2 753.8L503.0 718.7L504.1 685.8L505.2 666.1L506.1 674.8L507.2 643.0L508.1 674.8L509.2 696.8L510.3 740.7L511.4 784.5L512.0 794.4L512.7 729.7L513.6 681.4L514.7 707.8L515.8 716.5L516.9 707.8L518.2 679.7L519.1 729.7L520.2 768.1L521.0 740.7L521.9 723.1L522.8 720.9L523.7 729.7L524.8 723.1L525.6 741.8L526.5 725.3L527.6 707.8L528.7 691.3L529.6 718.7L530.5 762.6L531.1 791.1L532.0 762.6L532.9 753.8L533.8 771.4L534.6 758.2L535.3 773.6L536.2 793.3L537.1 788.9L537.9 795.5L539.0 802.1L539.9 799.9L540.8 805.4L541.7 784.5L542.5 765.9L543.4 784.5L544.5 795.5L545.6 801.0L546.5 773.6L547.4 751.6L548.2 740.7L549.3 718.7L550.0 703.4L550.9 745.1L551.8 718.7L552.6 696.8L553.5 689.1L554.2 694.6L554.8 690.2L555.7 696.8L556.6 707.8L557.5 740.7L558.6 778.0L559.4 798.8L560.3 773.6L561.2 762.6L562.1 781.3L562.9 769.2L563.8 762.6L564.7 751.6L565.8 744.0L566.7 751.6L567.5 758.2" fill="none" stroke="#151515" stroke-width="1.0" stroke-linejoin="miter" stroke-linecap="round"/>
<path d="M86.3 780.0C87.6 778.5 91.3 773.5 93.9 770.6C96.4 767.7 98.8 765.0 101.8 762.6C104.7 760.3 108.4 758.3 111.6 756.7C114.9 755.1 118.2 754.1 121.5 753.2C124.8 752.2 128.1 751.7 131.4 751.2C134.7 750.6 138.7 750.0 141.3 749.8C143.9 749.6 145.2 749.5 147.2 749.8C149.2 750.1 151.2 750.8 153.1 751.8C155.1 752.8 157.1 754.1 159.1 755.7C161.1 757.4 163.0 759.8 165.0 761.7C167.0 763.5 169.3 765.3 170.9 766.6C172.6 767.9 173.3 768.9 175.0 769.4C176.7 770.0 179.2 770.2 181.3 769.9C183.4 769.5 185.4 768.5 187.5 767.3C189.6 766.2 191.7 764.7 193.8 763.2C195.9 761.6 198.0 759.7 200.1 758.0C202.1 756.2 204.2 754.6 206.3 752.7C208.4 750.8 210.5 748.7 212.6 746.5C214.7 744.2 216.8 741.9 218.8 739.2C220.9 736.4 223.0 732.7 225.1 729.8C227.2 726.8 229.3 723.9 231.4 721.4C233.5 719.0 235.5 717.1 237.6 715.2C239.7 713.2 241.8 711.6 243.9 709.9C246.0 708.3 248.1 706.7 250.2 705.1C252.2 703.6 254.3 701.9 256.4 700.5C258.5 699.2 260.6 698.0 262.7 696.8C264.8 695.6 267.7 693.9 268.9 693.2C270.2 692.5 268.8 693.4 270.0 692.6C271.2 691.8 274.2 689.8 276.3 688.4C278.4 687.0 280.4 685.4 282.5 684.2C284.6 683.0 286.7 682.0 288.8 681.1C290.9 680.2 293.0 679.6 295.1 679.0C297.1 678.4 299.2 678.0 301.3 677.5C303.4 677.1 305.5 676.9 307.6 676.5C309.7 676.1 311.8 675.6 313.8 675.2C315.9 674.9 318.2 674.5 320.1 674.4C322.0 674.3 323.6 674.2 325.3 674.8C327.1 675.4 328.8 676.2 330.5 678.0C332.3 679.7 334.0 682.3 335.8 685.3C337.5 688.2 339.2 692.2 341.0 695.7C342.7 699.2 344.5 703.0 346.2 706.1C347.9 709.3 349.7 712.1 351.4 714.5C353.2 716.9 354.9 718.9 356.6 720.3C358.4 721.7 361.0 722.2 361.9 722.8C362.8 723.5 361.1 724.7 362.0 724.2C362.9 723.8 365.5 722.0 367.2 720.0C369.0 718.1 370.5 715.5 372.4 712.7C374.4 710.0 376.6 706.1 378.7 703.3C380.8 700.6 382.9 698.2 385.0 696.5C387.1 694.7 389.3 693.7 391.2 692.9C393.1 692.1 394.4 691.9 396.4 691.9C398.5 691.9 401.1 692.6 403.8 692.9C406.4 693.2 409.5 693.5 412.1 693.5C414.7 693.5 417.3 692.8 419.4 692.9C421.5 693.0 422.9 693.1 424.6 693.9C426.4 694.8 428.1 696.2 429.8 698.1C431.6 700.0 433.3 702.5 435.1 705.4C436.8 708.4 438.5 712.2 440.3 715.9C442.0 719.5 443.8 723.9 445.5 727.3C447.2 730.8 449.2 734.4 450.7 736.7C452.3 739.1 454.2 740.3 454.9 741.5C455.6 742.7 454.1 743.3 455.0 744.0C455.9 744.7 458.7 745.7 460.5 745.7C462.3 745.7 464.0 745.5 466.0 744.0C468.0 742.4 470.4 739.6 472.6 736.3C474.7 733.0 476.9 728.1 479.1 724.2C481.3 720.4 483.5 716.2 485.7 713.2C487.9 710.3 490.1 708.1 492.3 706.7C494.5 705.2 496.7 704.3 498.9 704.5C501.1 704.6 503.3 706.1 505.5 707.8C507.7 709.4 509.8 711.6 512.0 714.3C514.2 717.1 516.4 720.7 518.6 724.2C520.8 727.7 523.0 731.5 525.2 735.2C527.4 738.8 529.6 743.0 531.8 746.2C534.0 749.3 536.2 751.7 538.4 753.8C540.6 755.9 542.8 757.3 545.0 758.7C547.1 760.0 549.3 761.0 551.5 762.2C553.7 763.4 555.9 764.7 558.1 765.9C560.3 767.1 563.6 769.0 564.7 769.6" fill="none" stroke="#0a0a0a" stroke-width="2.5" stroke-linejoin="round" stroke-linecap="round"/>
<path d="M76.6 0 V854.0 H574.3 V0" fill="none" stroke="#484848" stroke-width="1.4"/>
<line x1="76.6" y1="0.3" x2="574.3" y2="0.3" stroke="#111" stroke-width="1.6"/>
<path d="M80.1 0V5 M80.1 854.0V848.5 M99.4 0V5 M99.4 854.0V848.5 M118.8 0V5 M118.8 854.0V848.5 M138.1 0V5 M138.1 854.0V848.5 M157.5 0V9 M157.5 854.0V844.0 M177.1 0V5 M177.1 854.0V848.5 M196.7 0V5 M196.7 854.0V848.5 M216.3 0V5 M216.3 854.0V848.5 M235.9 0V5 M235.9 854.0V848.5 M255.4 0V9 M255.4 854.0V844.0 M275.0 0V5 M275.0 854.0V848.5 M294.6 0V5 M294.6 854.0V848.5 M314.2 0V5 M314.2 854.0V848.5 M333.8 0V5 M333.8 854.0V848.5 M353.4 0V9 M353.4 854.0V844.0 M373.0 0V5 M373.0 854.0V848.5 M392.6 0V5 M392.6 854.0V848.5 M412.2 0V5 M412.2 854.0V848.5 M431.8 0V5 M431.8 854.0V848.5 M451.4 0V9 M451.4 854.0V844.0 M470.9 0V5 M470.9 854.0V848.5 M490.5 0V5 M490.5 854.0V848.5 M510.1 0V5 M510.1 854.0V848.5 M529.7 0V5 M529.7 854.0V848.5 M549.3 0V9 M549.3 854.0V844.0 M568.9 0V5 M568.9 854.0V848.5 M574.3 37.1h-10.2 M574.3 53.8h-6.6 M574.3 70.4h-6.6 M574.3 87.1h-6.6 M574.3 103.7h-6.6 M574.3 120.4h-10.2 M574.3 137.1h-6.6 M574.3 153.7h-6.6 M574.3 170.4h-6.6 M574.3 187.0h-6.6 M574.3 203.7h-10.2 M76.6 214.4h9.3 M76.6 228.5h6.4 M76.6 242.5h6.4 M76.6 256.6h6.4 M76.6 270.6h6.4 M76.6 284.6h9.3 M76.6 298.7h6.4 M76.6 312.8h6.4 M76.6 326.8h6.4 M76.6 340.9h6.4 M76.6 354.9h9.3 M574.3 433.6h-10.2 M574.3 451.5h-6.6 M574.3 469.3h-6.6 M574.3 487.2h-6.6 M574.3 505.0h-6.6 M574.3 522.9h-10.2 M574.3 540.8h-6.6 M574.3 558.6h-6.6 M574.3 576.5h-6.6 M574.3 594.3h-6.6 M574.3 612.2h-10.2 M76.6 637.7h9.3 M76.6 646.7h6.4 M76.6 655.6h6.4 M76.6 664.6h6.4 M76.6 673.5h6.4 M76.6 682.5h6.4 M76.6 691.5h6.4 M76.6 700.4h6.4 M76.6 709.4h6.4 M76.6 718.3h6.4 M76.6 727.3h9.3 M76.6 736.3h6.4 M76.6 745.2h6.4 M76.6 754.2h6.4 M76.6 763.1h6.4 M76.6 772.1h6.4 M76.6 781.1h6.4 M76.6 790.0h6.4 M76.6 799.0h6.4 M76.6 807.9h6.4 M76.6 816.9h9.3" fill="none" stroke="#111" stroke-width="1.7"/>
<text x="581.30" y="45.3" text-anchor="start" font-size="17.9" font-weight="normal" fill="#111" stroke="#111" stroke-width="0.3" letter-spacing="0.15" >0.025</text>
<text x="581.30" y="127.7" text-anchor="start" font-size="17.9" font-weight="normal" fill="#111" stroke="#111" stroke-width="0.3" letter-spacing="0.15" >0.020</text>
<text x="581.30" y="211.8" text-anchor="start" font-size="17.9" font-weight="normal" fill="#111" stroke="#111" stroke-width="0.3" letter-spacing="0.15" >0.015</text>
<text x="67.95" y="221.1" text-anchor="end" font-size="17.9" font-weight="normal" fill="#111" stroke="#111" stroke-width="0.3" letter-spacing="0.15" >0.25</text>
<text x="67.95" y="290.4" text-anchor="end" font-size="17.9" font-weight="normal" fill="#111" stroke="#111" stroke-width="0.3" letter-spacing="0.15" >0.20</text>
<text x="67.95" y="361.3" text-anchor="end" font-size="17.9" font-weight="normal" fill="#111" stroke="#111" stroke-width="0.3" letter-spacing="0.15" >0.15</text>
<text x="582.60" y="438.4" text-anchor="start" font-size="17.9" font-weight="normal" fill="#111" stroke="#111" stroke-width="0.3" letter-spacing="0.15" >-4.0</text>
<text x="582.60" y="527.1" text-anchor="start" font-size="17.9" font-weight="normal" fill="#111" stroke="#111" stroke-width="0.3" letter-spacing="0.15" >-5.0</text>
<text x="582.60" y="617.6" text-anchor="start" font-size="17.9" font-weight="normal" fill="#111" stroke="#111" stroke-width="0.3" letter-spacing="0.15" >-6.0</text>
<text x="67.75" y="645.3" text-anchor="end" font-size="17.9" font-weight="normal" fill="#111" stroke="#111" stroke-width="0.3" letter-spacing="0.15" >2.0</text>
<text x="67.75" y="733.8" text-anchor="end" font-size="17.9" font-weight="normal" fill="#111" stroke="#111" stroke-width="0.3" letter-spacing="0.15" >0.0</text>
<text x="67.75" y="824.0" text-anchor="end" font-size="17.9" font-weight="normal" fill="#111" stroke="#111" stroke-width="0.3" letter-spacing="0.15" >-2.0</text>
<text x="151.67" y="880.6" text-anchor="middle" font-size="17.9" font-weight="normal" fill="#111" stroke="#111" stroke-width="0.3" letter-spacing="0.15" >1970</text>
<text x="253.67" y="880.6" text-anchor="middle" font-size="17.9" font-weight="normal" fill="#111" stroke="#111" stroke-width="0.3" letter-spacing="0.15" >1980</text>
<text x="355.97" y="880.6" text-anchor="middle" font-size="17.9" font-weight="normal" fill="#111" stroke="#111" stroke-width="0.3" letter-spacing="0.15" >1990</text>
<text x="451.57" y="880.6" text-anchor="middle" font-size="17.9" font-weight="normal" fill="#111" stroke="#111" stroke-width="0.3" letter-spacing="0.15" >2000</text>
<text x="549.08" y="880.6" text-anchor="middle" font-size="17.9" font-weight="normal" fill="#111" stroke="#111" stroke-width="0.3" letter-spacing="0.15" >2010</text>
<text x="333" y="910.6" text-anchor="middle" font-size="26.6" font-weight="bold" fill="#111" letter-spacing="0.4">Year</text>
<text transform="translate(28.2,737.0) rotate(-90)" text-anchor="middle" font-size="26.6" font-weight="bold" fill="#111" letter-spacing="0.17">PDO Index</text>
<text transform="translate(20.6,288.6) rotate(-90)" text-anchor="middle" font-size="26.6" font-weight="bold" fill="#e04e12" letter-spacing="0.47">Mg/Ca (mmol/mol)</text>
<text transform="translate(645.9,121.0) rotate(90)" text-anchor="middle" font-size="26.6" font-weight="bold" fill="#0f0f88" letter-spacing="0.49">U/Ca (mmol/mol)</text>
<g transform="translate(631.8,0) rotate(90)" font-size="25" font-weight="bold" fill="#5a1e96"><text x="420.4" y="0" font-size="27">δ</text><text x="437.2" y="-15" font-size="19">18</text><text x="463.5" y="0" font-size="27">O</text><text x="490.6" y="0">(</text><text x="502.6" y="0" textLength="29.2" lengthAdjust="spacingAndGlyphs">‰</text><text x="539.4" y="0">VPDB)</text></g>
<text x="334" y="49.8" text-anchor="middle" font-size="27" font-weight="bold" fill="#ffffff" letter-spacing="-0.45">PDO +</text>
</svg>
</body></html>
